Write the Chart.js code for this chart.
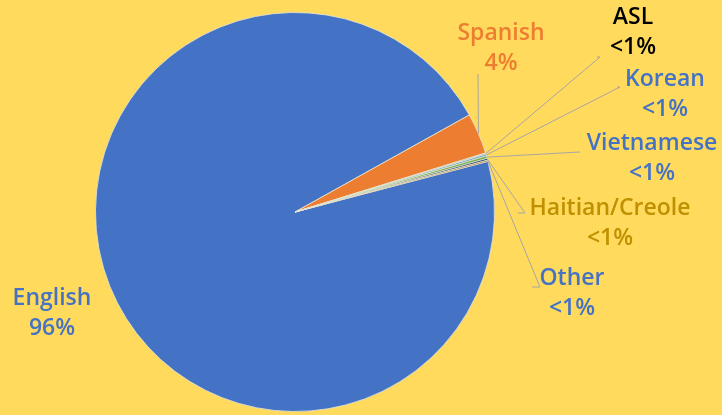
<!DOCTYPE html>
<html>
<head>
<meta charset="utf-8">
<script src="https://cdn.jsdelivr.net/npm/chart.js@4/dist/chart.umd.min.js"></script>
<style>
  html, body { margin: 0; padding: 0; background: #FFDA5C; }
  #wrap { width: 722px; height: 415px; position: relative; }
</style>
</head>
<body>
<div id="wrap"><canvas id="c" width="722" height="415"></canvas></div>
<script>
// ---- data ----
const categories = ['English', 'Spanish', 'ASL', 'Korean', 'Vietnamese', 'Haitian/Creole', 'Other'];
const values = [96.0, 3.3, 0.1, 0.15, 0.2, 0.15, 0.1];
const pctLabels = ['96%', '4%', '<1%', '<1%', '<1%', '<1%', '<1%'];

// ---- styles ----
const sliceColors = ['#4472C4', '#ED7D31', '#A5A5A5', '#5B9BD5', '#70AD47', '#264478', '#9E480E'];
const labelColors = ['#4472C4', '#ED7D31', '#000000', '#4472C4', '#4472C4', '#BF9000', '#4472C4'];
// label layout: text centre + leader elbow points (layout only)
const labelLayout = [
  { x: 52,  y: 298, pts: null },
  { x: 501, y: 33,  pts: [[478, 74]] },
  { x: 633, y: 17,  pts: [[597, 57], [600, 57]] },
  { x: 665, y: 79,  pts: [[617, 87], [620, 87]] },
  { x: 652, y: 143, pts: [[580, 152]] },
  { x: 610, y: 208, pts: [[518, 213], [525, 213]] },
  { x: 572, y: 278, pts: [[532, 287], [540, 287]] }
];

const labelPlugin = {
  id: 'pieLabels',
  afterDatasetsDraw(chart) {
    const ctx = chart.ctx;
    const meta = chart.getDatasetMeta(0);
    ctx.save();
    meta.data.forEach((arc, i) => {
      const p = arc.getProps(['x', 'y', 'startAngle', 'endAngle', 'outerRadius'], true);
      const mid = (p.startAngle + p.endAngle) / 2;
      const ax = p.x + p.outerRadius * Math.cos(mid);
      const ay = p.y + p.outerRadius * Math.sin(mid);
      const L = labelLayout[i];
      if (L.pts) {
        ctx.strokeStyle = '#A6A6A6';
        ctx.lineWidth = 1;
        ctx.beginPath();
        ctx.moveTo(ax, ay);
        L.pts.slice().reverse().forEach(q => ctx.lineTo(q[0], q[1]));
        ctx.stroke();
      }
      ctx.fillStyle = labelColors[i];
      ctx.font = '600 23px "Open Sans", sans-serif';
      ctx.textAlign = 'center';
      ctx.textBaseline = 'middle';
      ctx.fillText(categories[i], L.x, L.y);
      ctx.fillText(pctLabels[i], L.x, L.y + 30);
    });
    ctx.restore();
  }
};

new Chart(document.getElementById('c'), {
  type: 'pie',
  data: {
    labels: categories,
    datasets: [{
      data: values,
      backgroundColor: sliceColors,
      borderColor: 'rgba(230,230,210,0.8)',
      borderWidth: 1
    }]
  },
  options: {
    responsive: false,
    animation: false,
    rotation: 75.3,
    layout: { padding: { left: 95, right: 227, top: 12, bottom: 3 } },
    plugins: {
      legend: { display: false },
      tooltip: { enabled: false }
    },
    events: []
  },
  plugins: [labelPlugin]
});
</script>
</body>
</html>
